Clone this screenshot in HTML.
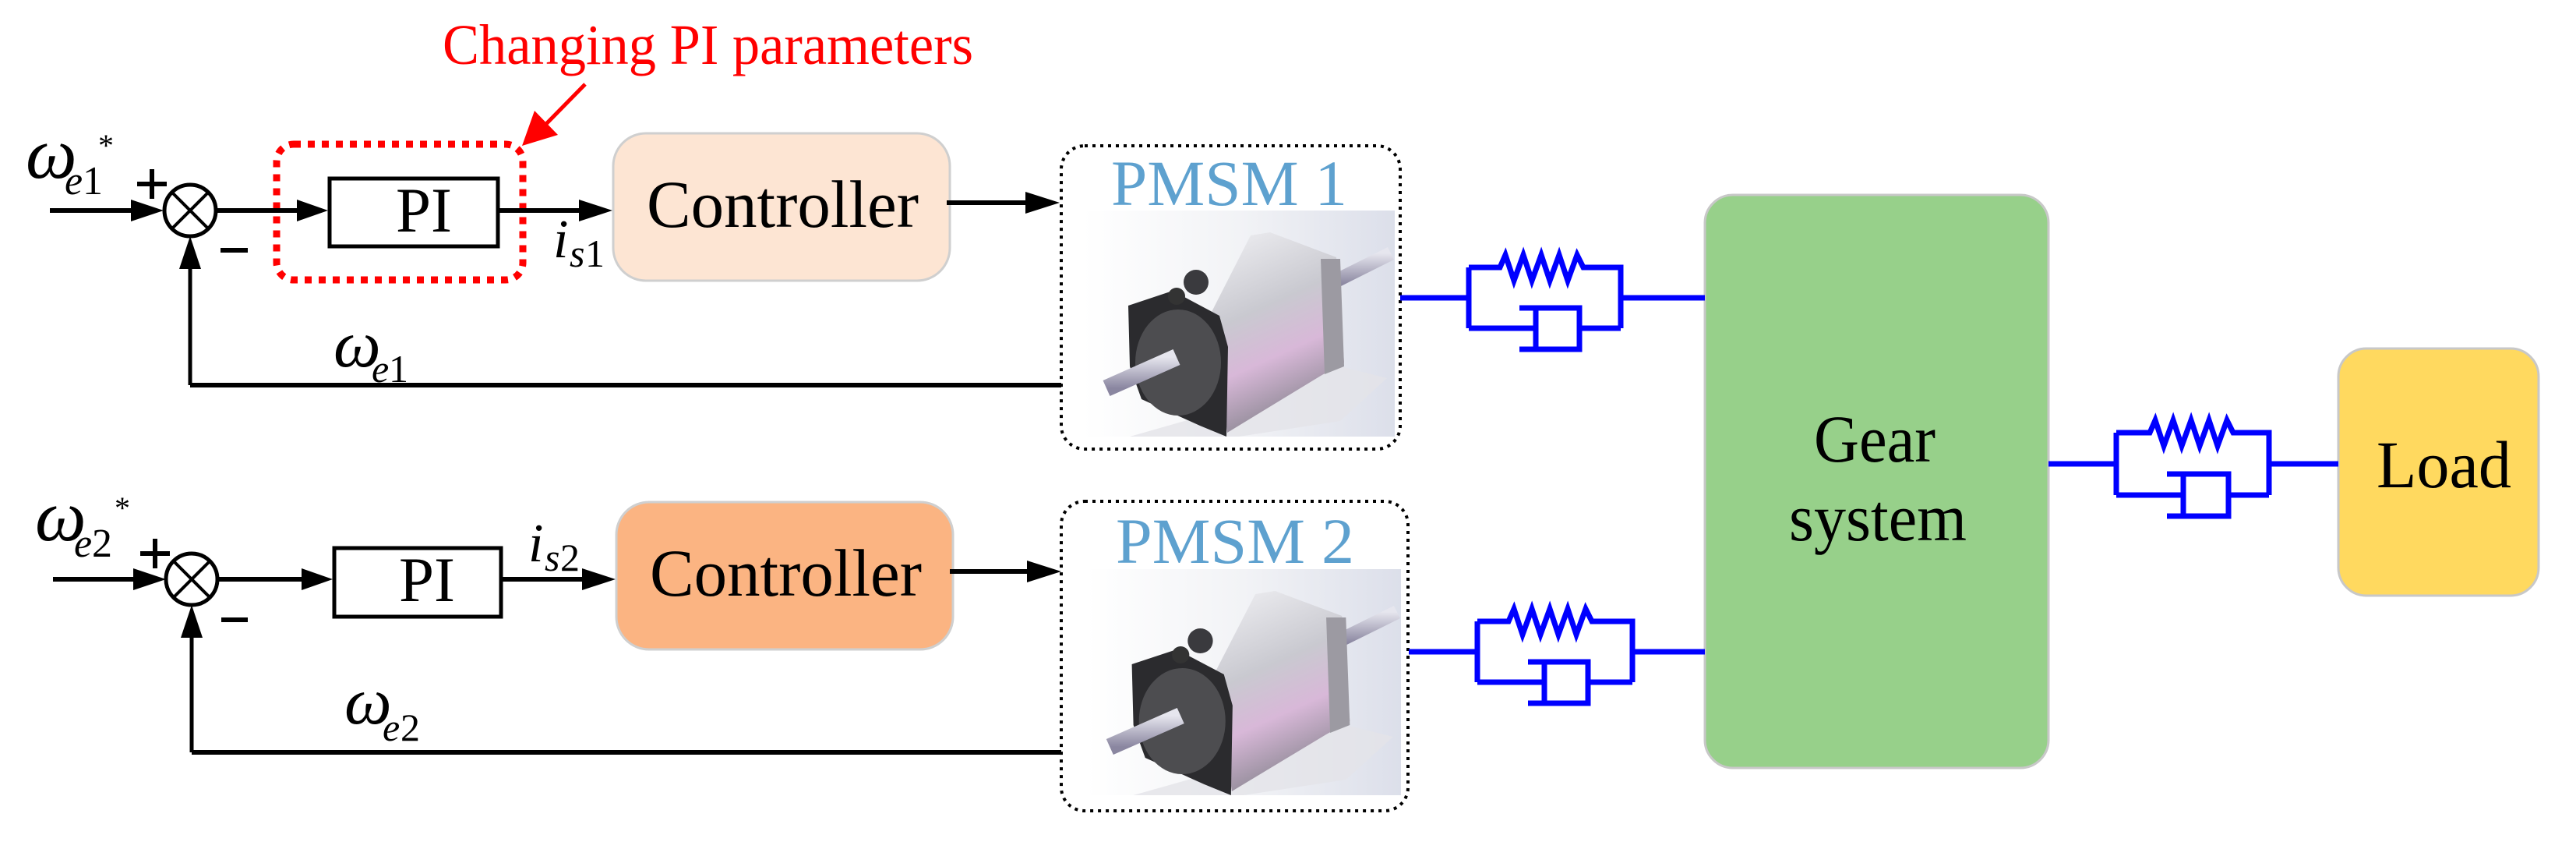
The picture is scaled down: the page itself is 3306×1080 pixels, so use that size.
<!DOCTYPE html>
<html><head><meta charset="utf-8"><style>
html,body{margin:0;padding:0;background:#fff;font-family:"Liberation Serif","DejaVu Serif",serif;}
svg{display:block;}
svg text{font-family:"Liberation Serif","DejaVu Serif","Times New Roman",serif !important;}
</style></head><body>
<svg width="3306" height="1080" viewBox="0 0 3306 1080" xmlns="http://www.w3.org/2000/svg" font-family="'Liberation Serif', 'DejaVu Serif', serif">
<defs>
<linearGradient id="bg" x1="0" y1="0" x2="1" y2="0">
<stop offset="0" stop-color="#ffffff"/><stop offset="0.5" stop-color="#f2f3f6"/><stop offset="1" stop-color="#dcdfea"/>
</linearGradient>
<linearGradient id="body" x1="0" y1="0" x2="0.3" y2="1">
<stop offset="0" stop-color="#f0f0f3"/><stop offset="0.45" stop-color="#c9c9d0"/><stop offset="0.7" stop-color="#d8b8d8"/><stop offset="1" stop-color="#8f8a96"/>
</linearGradient>
<linearGradient id="shaft" x1="0" y1="0" x2="0" y2="1">
<stop offset="0" stop-color="#e6e6ee"/><stop offset="1" stop-color="#8a86a0"/>
</linearGradient>
<g id="motor">
<rect x="0" y="0" width="400" height="290" fill="url(#bg)"/>
<polygon points="60,290 200,250 330,200 390,215 330,270 200,290" fill="#e4e4e8" opacity="0.8"/>
<line x1="315" y1="95" x2="395" y2="55" stroke="url(#shaft)" stroke-width="18"/>
<polygon points="165,130 215,32 240,28 325,60 335,195 305,212 185,285" fill="url(#body)"/>
<polygon points="305,62 330,62 335,200 310,210" fill="#9c9aa2"/>
<polygon points="58,122 115,103 175,135 186,175 184,290 150,276 75,242 60,200" fill="#2b2b2e"/>
<ellipse cx="122" cy="195" rx="55" ry="68" fill="#4d4d50"/>
<circle cx="145" cy="92" r="16" fill="#3a3a3e"/>
<circle cx="120" cy="110" r="11" fill="#333"/>
<line x1="30" y1="228" x2="120" y2="188" stroke="url(#shaft)" stroke-width="22"/>
</g>
</defs>

<text x="568" y="82" font-size="73" fill="#ff0000" textLength="681" lengthAdjust="spacingAndGlyphs">Changing PI parameters</text>
<line x1="751" y1="108" x2="695" y2="165" stroke="#ff0000" stroke-width="5"/>
<polygon points="670,187 686,142 716,173" fill="#ff0000"/>
<rect x="355" y="185" width="316" height="174" rx="22" fill="none" stroke="#ff0000" stroke-width="9" stroke-dasharray="9 9"/>

<!-- Row 1 -->
<text x="33" y="228" font-size="93" font-style="italic">ω</text>
<text x="83" y="249" font-size="52" font-style="italic">e</text><text x="106" y="249" font-size="52">1</text>
<text x="126" y="200" font-size="40">*</text>
<line x1="176" y1="236" x2="214" y2="236" stroke="#000" stroke-width="6"/>
<line x1="195" y1="217" x2="195" y2="255" stroke="#000" stroke-width="6"/>
<line x1="283" y1="321" x2="318" y2="321" stroke="#000" stroke-width="6"/>
<line x1="64" y1="270" x2="190" y2="270" stroke="#000" stroke-width="6"/>
<polygon points="210,270 168,256 168,284" fill="#000"/>
<circle cx="244" cy="270" r="33" fill="#fff" stroke="#000" stroke-width="5"/>
<line x1="221" y1="247" x2="267" y2="293" stroke="#000" stroke-width="4"/>
<line x1="267" y1="247" x2="221" y2="293" stroke="#000" stroke-width="4"/>
<line x1="277" y1="270" x2="400" y2="270" stroke="#000" stroke-width="6"/>
<polygon points="421,270 381,256 381,284" fill="#000"/>
<rect x="423" y="229" width="216" height="87" fill="#fff" stroke="#000" stroke-width="5"/>
<text x="508" y="297" font-size="82" textLength="72" lengthAdjust="spacingAndGlyphs">PI</text>
<line x1="639" y1="270" x2="750" y2="270" stroke="#000" stroke-width="6"/>
<polygon points="786,270 743,256 743,284" fill="#000"/>
<text x="710" y="330" font-size="70" font-style="italic">i</text>
<text x="731" y="342" font-size="50" font-style="italic">s</text><text x="751" y="342" font-size="50">1</text>
<rect x="787" y="171" width="432" height="189" rx="42" fill="#fde5d3" stroke="#cfcfcf" stroke-width="3"/>
<text x="830" y="291" font-size="86" textLength="349" lengthAdjust="spacingAndGlyphs">Controller</text>
<line x1="1215" y1="260" x2="1325" y2="260" stroke="#000" stroke-width="6"/>
<polygon points="1360,260 1316,246 1316,274" fill="#000"/>
<line x1="244" y1="494" x2="1362" y2="494" stroke="#000" stroke-width="6"/>
<line x1="244" y1="494" x2="244" y2="330" stroke="#000" stroke-width="5"/>
<polygon points="244,303 230,345 258,345" fill="#000"/>
<text x="428" y="470" font-size="86" font-style="italic">ω</text>
<text x="477" y="490" font-size="50" font-style="italic">e</text><text x="499" y="490" font-size="50">1</text>

<rect x="1362" y="187" width="435" height="389" rx="30" fill="none" stroke="#000" stroke-width="4" stroke-dasharray="4 6"/>
<text x="1426" y="263" font-size="83" fill="#5ea1cf" textLength="303" lengthAdjust="spacingAndGlyphs">PMSM 1</text>
<use href="#motor" transform="translate(1390,270)"/>

<!-- Row 2 -->
<text x="45" y="693" font-size="93" font-style="italic">ω</text>
<text x="95" y="714" font-size="52" font-style="italic">e</text><text x="118" y="714" font-size="52">2</text>
<text x="147" y="665" font-size="40">*</text>
<line x1="180" y1="710" x2="218" y2="710" stroke="#000" stroke-width="6"/>
<line x1="199" y1="691" x2="199" y2="729" stroke="#000" stroke-width="6"/>
<line x1="284" y1="795" x2="318" y2="795" stroke="#000" stroke-width="6"/>
<line x1="68" y1="743" x2="192" y2="743" stroke="#000" stroke-width="6"/>
<polygon points="213,743 171,729 171,757" fill="#000"/>
<circle cx="246" cy="743" r="33" fill="#fff" stroke="#000" stroke-width="5"/>
<line x1="223" y1="720" x2="269" y2="766" stroke="#000" stroke-width="4"/>
<line x1="269" y1="720" x2="223" y2="766" stroke="#000" stroke-width="4"/>
<line x1="279" y1="743" x2="405" y2="743" stroke="#000" stroke-width="6"/>
<polygon points="427,743 387,729 387,757" fill="#000"/>
<rect x="429" y="703" width="214" height="88" fill="#fff" stroke="#000" stroke-width="5"/>
<text x="512" y="771" font-size="82" textLength="72" lengthAdjust="spacingAndGlyphs">PI</text>
<line x1="643" y1="743" x2="755" y2="743" stroke="#000" stroke-width="6"/>
<polygon points="790,743 747,729 747,757" fill="#000"/>
<text x="678" y="720" font-size="70" font-style="italic">i</text>
<text x="699" y="732" font-size="50" font-style="italic">s</text><text x="719" y="732" font-size="50">2</text>
<rect x="791" y="644" width="432" height="189" rx="42" fill="#fbb482" stroke="#cfcfcf" stroke-width="3"/>
<text x="834" y="764" font-size="86" textLength="349" lengthAdjust="spacingAndGlyphs">Controller</text>
<line x1="1219" y1="733" x2="1325" y2="733" stroke="#000" stroke-width="6"/>
<polygon points="1362,733 1318,719 1318,747" fill="#000"/>
<line x1="246" y1="965" x2="1362" y2="965" stroke="#000" stroke-width="6"/>
<line x1="246" y1="965" x2="246" y2="800" stroke="#000" stroke-width="5"/>
<polygon points="246,776 232,818 260,818" fill="#000"/>
<text x="442" y="928" font-size="86" font-style="italic">ω</text>
<text x="491" y="950" font-size="50" font-style="italic">e</text><text x="514" y="950" font-size="50">2</text>

<rect x="1362" y="643" width="445" height="397" rx="30" fill="none" stroke="#000" stroke-width="4" stroke-dasharray="4 6"/>
<text x="1432" y="722" font-size="83" fill="#5ea1cf" textLength="306" lengthAdjust="spacingAndGlyphs">PMSM 2</text>
<use href="#motor" transform="translate(1394,730) scale(1.01,1)"/>

<rect x="2188" y="250" width="441" height="735" rx="36" fill="#97d08a" stroke="#c8c8c8" stroke-width="3"/>
<text x="2328" y="592" font-size="86" textLength="156" lengthAdjust="spacingAndGlyphs">Gear</text>
<text x="2296" y="693" font-size="86" textLength="228" lengthAdjust="spacingAndGlyphs">system</text>
<rect x="3001" y="447" width="257" height="317" rx="36" fill="#ffd95f" stroke="#c8c8c8" stroke-width="3"/>
<text x="3050" y="625" font-size="86" textLength="173" lengthAdjust="spacingAndGlyphs">Load</text>

<g fill="none" stroke="#0000ff" stroke-width="7">
<path d="M1797,382 H1885 M1885,343 V421 M1885,343 H1925 L1932,327 L1943,360 L1955,327 L1966,360 L1978,327 L1989,360 L2001,327 L2012,360 L2024,327 L2032,343 H2080 V421 M2080,382 H2188 M1885,421 H1971 M2027,421 H2080 M1950,395 H2027 V448 H1950 M1971,395 V448"/>
<path d="M1808,836 H1896 M1896,797 V875 M1896,797 H1936 L1943,781 L1954,814 L1966,781 L1977,814 L1989,781 L2000,814 L2012,781 L2023,814 L2035,781 L2043,797 H2095 V875 M2095,836 H2188 M1896,875 H1982 M2038,875 H2095 M1961,849 H2038 V902 H1961 M1982,849 V902"/>
<path d="M2629,595 H2716 M2716,555 V635 M2716,555 H2759 L2766,539 L2777,572 L2789,539 L2800,572 L2812,539 L2823,572 L2835,539 L2846,572 L2858,539 L2866,555 H2912 V635 M2912,595 H3001 M2716,635 H2802 M2860,635 H2912 M2781,608 H2860 V662 H2781 M2802,608 V662"/>
</g>
</svg>
</body></html>
